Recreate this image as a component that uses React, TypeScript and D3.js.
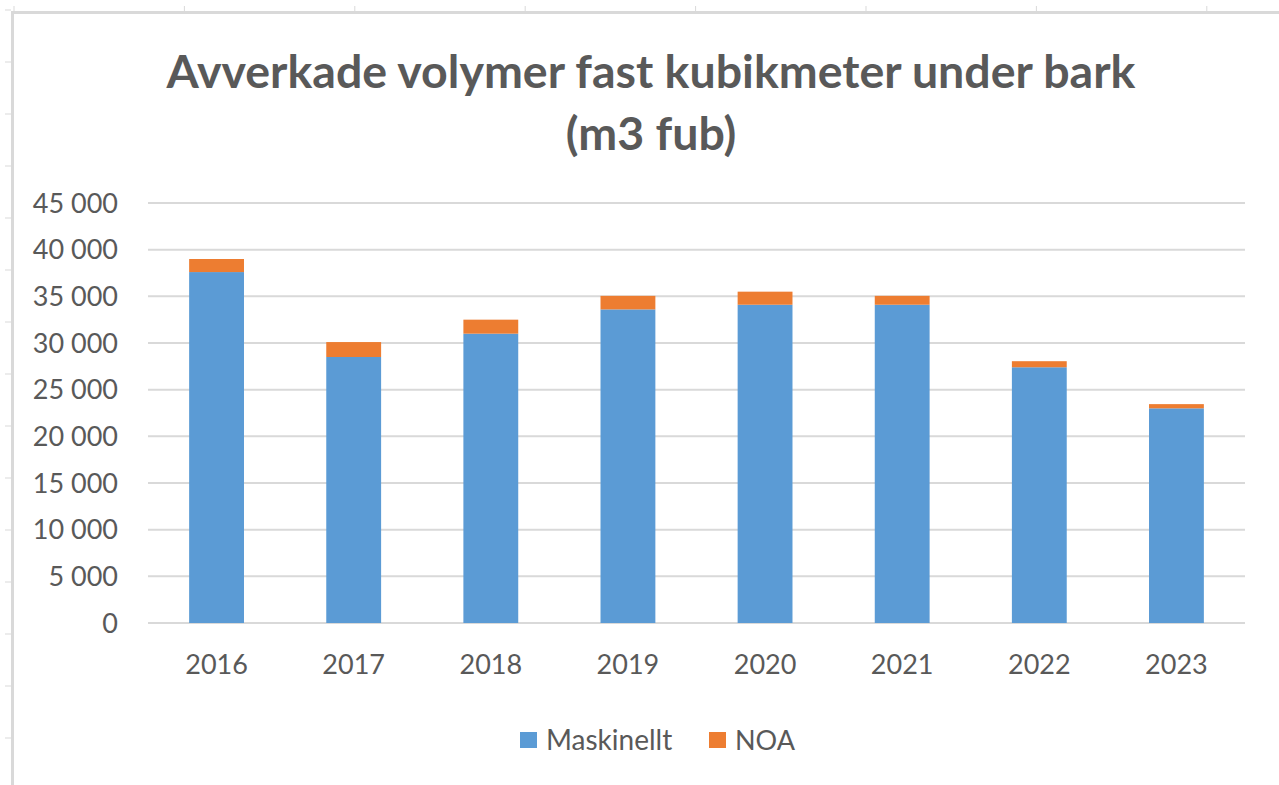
import React from "react";
import * as d3 from "d3";

// data
const years = ["2016", "2017", "2018", "2019", "2020", "2021", "2022", "2023"];
const maskinellt = [37600, 28500, 31000, 33600, 34100, 34100, 27400, 23000];
const noa = [1400, 1600, 1500, 1450, 1400, 950, 650, 450];
const yTicks = [0, 5000, 10000, 15000, 20000, 25000, 30000, 35000, 40000, 45000];
const seriesNames = ["Maskinellt", "NOA"];
const titleLines = ["Avverkade volymer fast kubikmeter under bark", "(m3 fub)"];

const W = 1279;
const H = 785;
const textColor = "#595959";
const gridColor = "#d9d9d9";
const colors = ["#5b9bd5", "#ed7d31"];
const font = "Lato, 'Open Sans', sans-serif";

const App = () => {
  const x = d3.scaleBand().domain(years).range([148, 1245]).paddingInner(0.6).paddingOuter(0.3);
  const y = d3.scaleLinear().domain([0, 45000]).range([623, 203]);
  const fmt = (v: number) => d3.format(",")(v).replace(/,/g, " ");

  const rows = years.map((yr, i) => ({ year: yr, Maskinellt: maskinellt[i], NOA: noa[i] }));
  const stacked = d3.stack<any>().keys(seriesNames)(rows);

  // faint spreadsheet cell marks outside the chart frame
  const colMarks = d3.range(14, W, 170.4);
  const rowMarks = d3.range(10, H, 52);

  return (
    <svg width={W} height={H} style={{ position: "absolute", left: 0, top: 0, background: "#fff" }}>
      {colMarks.map((cx, i) => (
        <line key={"c" + i} x1={cx} x2={cx} y1={6} y2={12} stroke={gridColor} strokeWidth={1} />
      ))}
      {rowMarks.map((ry, i) => (
        <line key={"r" + i} x1={5} x2={11} y1={ry} y2={ry} stroke={gridColor} strokeWidth={1} />
      ))}
      <path d={`M12.5,${H} V12.5 H${W}`} fill="none" stroke={gridColor} strokeWidth={3} />

      {titleLines.map((t, i) => (
        <text key={t} x={651} y={88 + i * 62} textAnchor="middle" fontFamily={font} fontWeight="bold"
          fontSize={46.5} fill={textColor}>{t}</text>
      ))}

      {yTicks.map((v) => (
        <g key={v}>
          <line x1={148} x2={1245} y1={y(v)} y2={y(v)} stroke={gridColor} strokeWidth={2} />
          <text x={118} y={y(v)} dy="0.36em" textAnchor="end" fontFamily={font} fontSize={27} fill={textColor}>
            {fmt(v)}
          </text>
        </g>
      ))}

      {stacked.map((s, si) => (
        <g key={s.key} fill={colors[si]}>
          {s.map((d, i) => (
            <rect key={i} x={x(years[i])} width={x.bandwidth()} y={y(d[1])} height={y(d[0]) - y(d[1])} />
          ))}
        </g>
      ))}

      {years.map((yr) => (
        <text key={yr} x={(x(yr) as number) + x.bandwidth() / 2} y={674} textAnchor="middle"
          fontFamily={font} fontSize={27} fill={textColor}>{yr}</text>
      ))}

      <g>
        <rect x={520} y={732} width={17} height={16} fill={colors[0]} />
        <text x={546} y={750} fontFamily={font} fontSize={28} fill={textColor}>{seriesNames[0]}</text>
        <rect x={709} y={732} width={17} height={16} fill={colors[1]} />
        <text x={735} y={750} fontFamily={font} fontSize={27} fill={textColor}>{seriesNames[1]}</text>
      </g>
    </svg>
  );
};

export default App;
